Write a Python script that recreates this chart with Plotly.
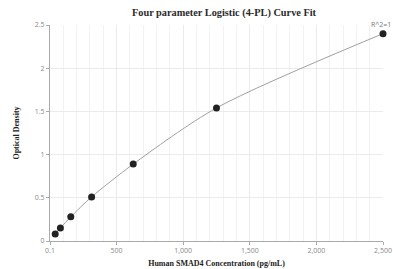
import plotly.graph_objects as go

conc = [39.0625, 78.125, 156.25, 312.5, 625, 1250, 2500]
od = [0.08, 0.15, 0.28, 0.51, 0.89, 1.54, 2.40]
x_tickvals = [0.1, 500, 1000, 1500, 2000, 2500]
x_ticktext = ["0.1", "500", "1,000", "1,500", "2,000", "2,500"]
y_tickvals = [0, 0.5, 1, 1.5, 2, 2.5]
y_ticktext = ["0", "0.5", "1", "1.5", "2", "2.5"]

fig = go.Figure()
fig.add_trace(go.Scatter(x=conc, y=od, mode="lines", line=dict(color="#a0a0a0", width=1, shape="spline", smoothing=0.8),
                         hoverinfo="skip", showlegend=False, cliponaxis=False))
fig.add_trace(go.Scatter(x=conc, y=od, mode="markers", marker=dict(color="#222222", size=7),
                         showlegend=False, cliponaxis=False))
fig.add_annotation(x=conc[-1], y=od[-1], text="R^2=1", showarrow=False, xanchor="right", yanchor="bottom",
                   xshift=10, yshift=3, font=dict(family="Open Sans, Arial", size=7, color="#777777"))

fig.update_layout(
    width=393, height=269,
    margin=dict(l=50, r=10, t=25, b=28),
    paper_bgcolor="white", plot_bgcolor="white",
    title=dict(text="<b>Four parameter Logistic (4-PL) Curve Fit</b>", x=0.57, xanchor="center", y=0.953, yanchor="middle",
               yref="container",
               font=dict(family="Liberation Serif, Times New Roman, serif", size=10.3, color="#2a2a2a")),
    xaxis=dict(range=[0.1, 2500], tickvals=x_tickvals, ticktext=x_ticktext, automargin=False,
               showgrid=True, gridcolor="#e8ebf0", gridwidth=1,
               minor=dict(dtick=100, tick0=0, showgrid=True, gridcolor="#f0f2f6", gridwidth=1),
               showline=True, linecolor="#aaaaaa", linewidth=1, ticks="outside", ticklen=3, tickcolor="#aaaaaa",
               zeroline=False,
               tickfont=dict(family="Open Sans, Arial", size=7, color="#888888"),
               title=dict(text="<b>Human SMAD4 Concentration (pg/mL)</b>", standoff=5,
                          font=dict(family="Liberation Serif, Times New Roman, serif", size=8, color="#222222"))),
    yaxis=dict(range=[0, 2.5], tickvals=y_tickvals, ticktext=y_ticktext, automargin=False,
               showgrid=True, gridcolor="#e8ebf0", gridwidth=1,
               showline=True, linecolor="#aaaaaa", linewidth=1, ticks="outside", ticklen=3, tickcolor="#aaaaaa",
               zeroline=False,
               tickfont=dict(family="Open Sans, Arial", size=7, color="#888888"),
               title=dict(text="<b>Optical Density</b>", standoff=13,
                          font=dict(family="Liberation Serif, Times New Roman, serif", size=8, color="#222222"))),
)

fig.write_html("out.html", config={"displayModeBar": False},
               post_script="document.body.style.margin='0';")
